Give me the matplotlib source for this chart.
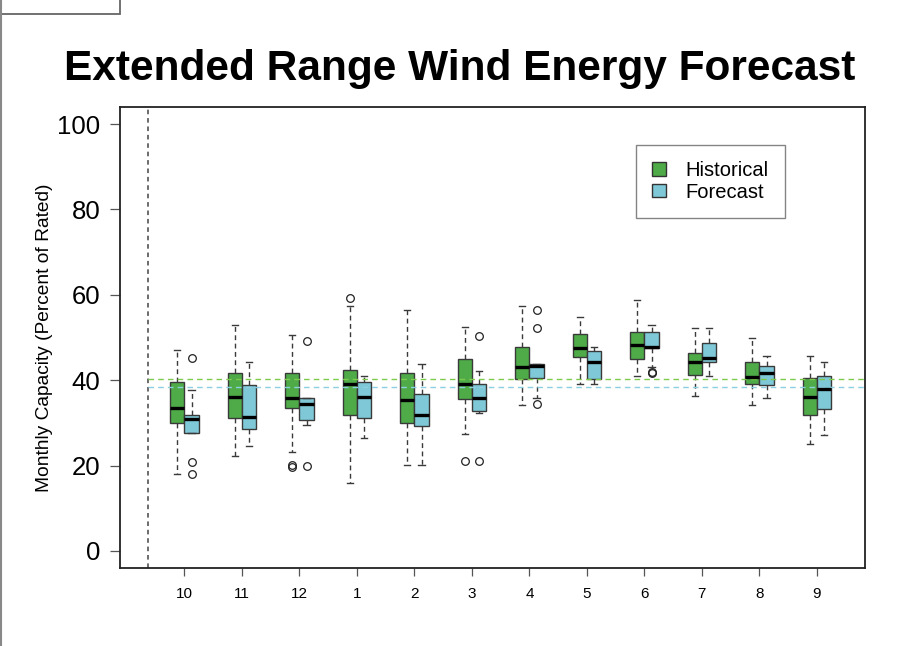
import matplotlib
matplotlib.use("Agg")
import matplotlib.pyplot as plt
from matplotlib.patches import Patch, Rectangle
from matplotlib.lines import Line2D

months = ['10', '11', '12', '1', '2', '3', '4', '5', '6', '7', '8', '9']

hist_lo  = [18.0, 22.3, 23.3, 16.0, 20.1, 27.3, 34.1, 39.1, 41.0, 36.4, 34.1, 25.0]
hist_q1  = [30.0, 31.2, 33.4, 31.8, 30.0, 35.7, 40.3, 45.5, 44.9, 41.2, 39.0, 31.9]
hist_med = [33.4, 36.1, 35.9, 39.0, 35.3, 39.0, 43.0, 47.6, 48.2, 44.3, 40.8, 36.1]
hist_q3  = [39.5, 41.7, 41.7, 42.5, 41.8, 45.0, 47.8, 50.8, 51.2, 46.4, 44.2, 40.5]
hist_hi  = [47.0, 53.0, 50.7, 57.4, 56.5, 52.5, 57.3, 54.9, 58.9, 52.3, 49.8, 45.7]
hist_out = [[], [], [20.2, 19.6], [59.2], [], [21.0], [], [], [], [], [], []]

fc_lo  = [27.6, 24.5, 29.5, 26.5, 20.1, 32.4, 35.8, 39.1, 43.1, 40.9, 35.8, 27.1]
fc_q1  = [27.6, 28.6, 30.7, 31.2, 29.3, 32.9, 40.6, 40.2, 47.6, 44.3, 38.8, 33.2]
fc_med = [31.0, 31.4, 34.4, 36.0, 31.85, 35.8, 43.25, 44.3, 47.85, 45.3, 41.6, 37.9]
fc_q3  = [31.85, 38.9, 35.8, 39.6, 36.7, 39.0, 43.9, 46.8, 51.3, 48.8, 43.3, 40.9]
fc_hi  = [37.8, 44.3, 35.8, 40.9, 43.7, 42.2, 43.9, 47.7, 52.9, 52.3, 45.7, 44.2]
fc_out = [[45.2, 20.8, 18.0], [], [49.2, 19.8], [], [], [50.4, 21.0],
          [56.5, 52.2, 34.4], [], [42.0, 41.6], [], [], []]

hist_mean = 40.35
fc_mean = 38.3

GREEN = '#4eab48'
BLUE = '#7fc8d8'
GREEN_LINE = '#7dcb4c'
BLUE_LINE = '#8ccfe0'


def make_stats(lo, q1, med, q3, hi, out):
    return [dict(whislo=a, q1=b, med=c, q3=d, whishi=e, fliers=f)
            for a, b, c, d, e, f in zip(lo, q1, med, q3, hi, out)]


fig = plt.figure(figsize=(9.02, 6.46), dpi=100)
ax = fig.add_axes([0.1335, 0.1207, 0.8255, 0.7136])

pos = list(range(len(months)))
common = dict(widths=0.25, patch_artist=True, manage_ticks=False,
              capwidths=0.11,
              medianprops=dict(color='black', linewidth=2.4),
              whiskerprops=dict(color='#3a3a3a', linewidth=1.0, linestyle=(0, (3.5, 2.5))),
              capprops=dict(color='#3a3a3a', linewidth=1.0),
              flierprops=dict(marker='o', markersize=5.5, markerfacecolor='none',
                              markeredgecolor='#222222', markeredgewidth=0.9))

ax.bxp(make_stats(hist_lo, hist_q1, hist_med, hist_q3, hist_hi, hist_out),
       positions=[p - 0.125 for p in pos],
       boxprops=dict(facecolor=GREEN, edgecolor='#3a3a3a', linewidth=1.0), **common)
ax.bxp(make_stats(fc_lo, fc_q1, fc_med, fc_q3, fc_hi, fc_out),
       positions=[p + 0.125 for p in pos],
       boxprops=dict(facecolor=BLUE, edgecolor='#3a3a3a', linewidth=1.0), **common)

vline_x = -0.64
ax.axvline(vline_x, color='#444444', linewidth=1.1, linestyle=(0, (3, 2.5)))
ax.hlines(hist_mean, vline_x, 12, color=GREEN_LINE, linewidth=1.0, linestyle=(0, (4, 3)))
ax.hlines(fc_mean, vline_x, 12, color=BLUE_LINE, linewidth=1.0, linestyle=(0, (4, 3)))

ax.set_xlim(-1.113, 11.837)
ax.set_ylim(-4, 104)

for s in ax.spines.values():
    s.set_color('#222222')
    s.set_linewidth(1.3)

ax.set_yticks([0, 20, 40, 60, 80, 100])
ax.set_yticklabels(['0', '20', '40', '60', '80', '100'],
                   fontsize=18.5, family=['Liberation Sans', 'DejaVu Sans'])
ax.tick_params(axis='y', direction='out', length=7.5, width=0.9, color='#555555', pad=7)

ax.set_xticks(pos)
ax.set_xticklabels(months, fontsize=11,
                   family=['Liberation Sans Narrow', 'Liberation Sans', 'DejaVu Sans'])
ax.tick_params(axis='x', direction='out', length=6, width=0.9, color='#555555', pad=8)

ax.set_ylabel('Monthly Capacity (Percent of Rated)', fontsize=13.8,
              family=['Liberation Sans', 'DejaVu Sans'], labelpad=3)

fig.text(0.510, 1 - 80 / 646, 'Extended Range Wind Energy Forecast', ha='center',
         va='baseline', fontsize=30.5, fontweight='bold',
         family=['Liberation Sans', 'DejaVu Sans'])

handles = [Patch(facecolor=GREEN, edgecolor='#333333', linewidth=1.0, label='Historical'),
           Patch(facecolor=BLUE, edgecolor='#333333', linewidth=1.0, label='Forecast')]
leg = ax.legend(handles=handles, loc='upper left', bbox_to_anchor=(0.6925, 0.9176),
                borderaxespad=0, fancybox=False, frameon=True,
                handlelength=0.7, handleheight=0.65, handletextpad=0.95,
                labelspacing=0.12, borderpad=0.8,
                prop=dict(family=['Liberation Sans', 'DejaVu Sans'], size=14.5))
leg.get_frame().set_edgecolor('#666666')
leg.get_frame().set_linewidth(1.0)

# screenshot frame fragments
fig.add_artist(Line2D([0.0015, 0.0015], [0, 1], transform=fig.transFigure,
                      color='#888888', linewidth=1.5))
fig.add_artist(Rectangle((0.0, 1 - 13.5 / 646), 120 / 902, 13.5 / 646 + 0.01,
                         transform=fig.transFigure, facecolor='none',
                         edgecolor='#666666', linewidth=1.3))

fig.savefig('out.png', dpi=100)
